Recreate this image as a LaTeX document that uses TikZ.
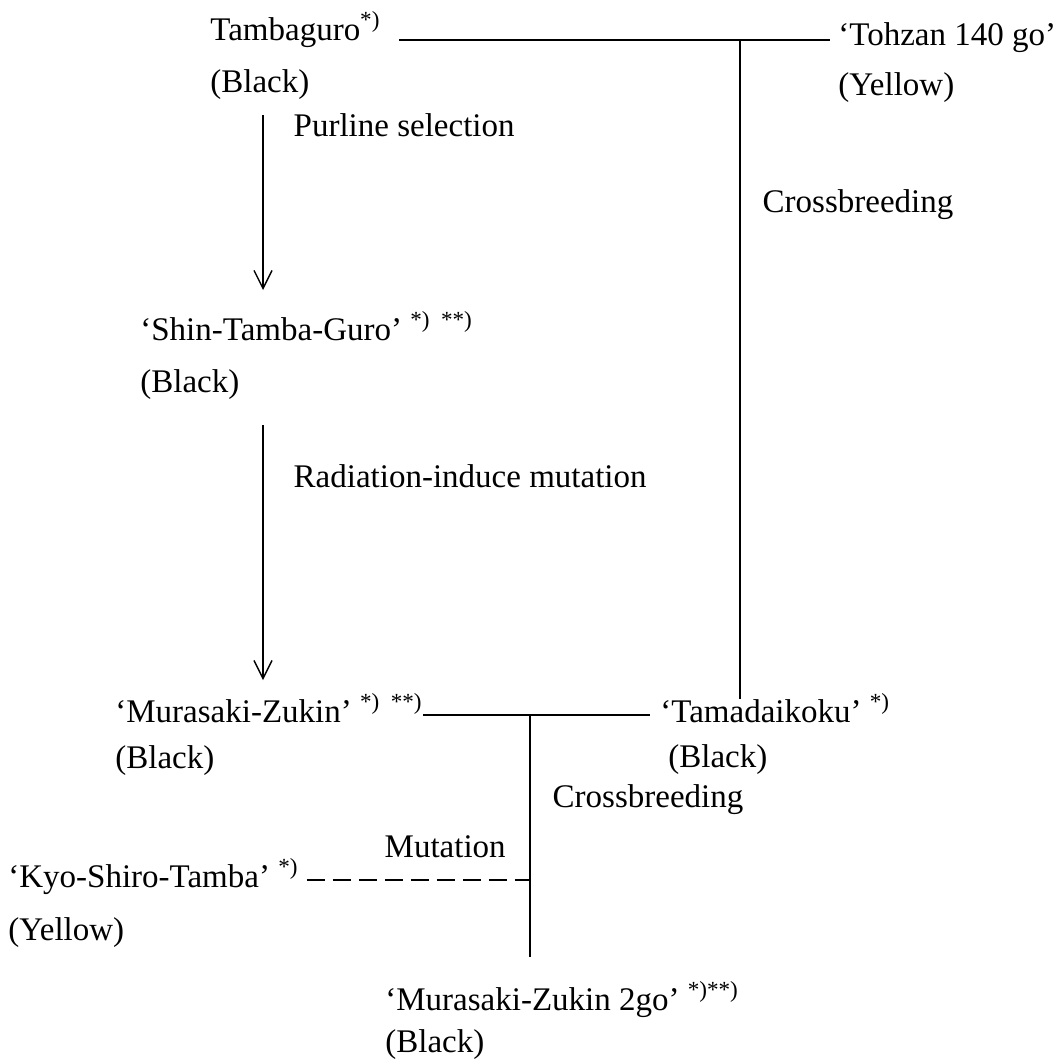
\documentclass[tikz,border=0pt]{standalone}
\usepackage{fontspec}
\setmainfont{Liberation Serif}
\usetikzlibrary{arrows.meta}

\tikzset{
  var/.style={anchor=base west, inner sep=0pt, font=\fontsize{16.5}{19}\selectfont},
  lbl/.style={inner sep=0pt, font=\fontsize{16.5}{19}\selectfont},
  arr/.style={-{Straight Barb[length=9pt,width=9pt]}, line width=.7pt},
  link/.style={line width=.7pt},
}
\newcommand{\nt}[1]{\textsuperscript{#1}}

\begin{document}
\begin{tikzpicture}[x=.5pt, y=-.5pt]
\useasboundingbox (0,0) rectangle (1063,1061);
% varieties and seed colour
\node[var] (tamba) at (210,40) {Tambaguro\nt{*)}};
\node[var] (tambaC) at (210,92) {(Black)};
\node[var] (tohzan) at (838,45) {‘Tohzan 140 go’};
\node[var] (tohzanC) at (838,95) {(Yellow)};
\node[var] (shin) at (140,340) {‘Shin-Tamba-Guro’ \nt{*)\ \ **)}};
\node[var] (shinC) at (140,392) {(Black)};
\node[var] (mura) at (115,722) {‘Murasaki-Zukin’ \nt{*)\ \ **)}};
\node[var] (muraC) at (115,768) {(Black)};
\node[var] (tama) at (660,722) {‘Tamadaikoku’ \nt{*)}};
\node[var] (tamaC) at (668,767) {(Black)};
\node[var] (kyo) at (8,887) {‘Kyo-Shiro-Tamba’ \nt{*)}};
\node[var] (kyoC) at (8,940) {(Yellow)};
\node[var] (zukin) at (385,1010) {‘Murasaki-Zukin 2go’ \nt{*)**)}};
\node[var] (zukinC) at (385,1052) {(Black)};
% junctions and arrow ends
\coordinate (j1) at (740,40);
\coordinate (j2) at (530,715);
\coordinate (m1) at (530,880);
\coordinate (p1) at (263,115);
\coordinate (p2) at (263,290);
\coordinate (r1) at (263,425);
\coordinate (r2) at (263,680);
\draw[link] ([xshift=9pt]tamba.east |- j1) -- ([xshift=-4pt]tohzan.west |- j1);
\draw[link] (j1) -- ([yshift=-3pt]j1 |- tama.north) node[lbl, right=11pt, pos=.25]{Crossbreeding};
\draw[arr] (p1) -- (p2) node[lbl, right=15pt, pos=.06]{Purline selection};
\draw[arr] (r1) -- (r2) node[lbl, right=15pt, pos=.2]{Radiation-induce mutation};
\draw[link] (mura.east |- j2) -- ([xshift=-5pt]tama.west |- j2);
\draw[link] (j2) -- ([yshift=12pt]j2 |- zukin.north) node[lbl, right=11pt, pos=.35]{Crossbreeding};
\draw[link, dash pattern=on 9pt off 4pt] ([xshift=4pt]kyo.east |- m1) -- (m1) node[lbl, above=11pt, pos=.62]{Mutation};
\end{tikzpicture}
\end{document}
